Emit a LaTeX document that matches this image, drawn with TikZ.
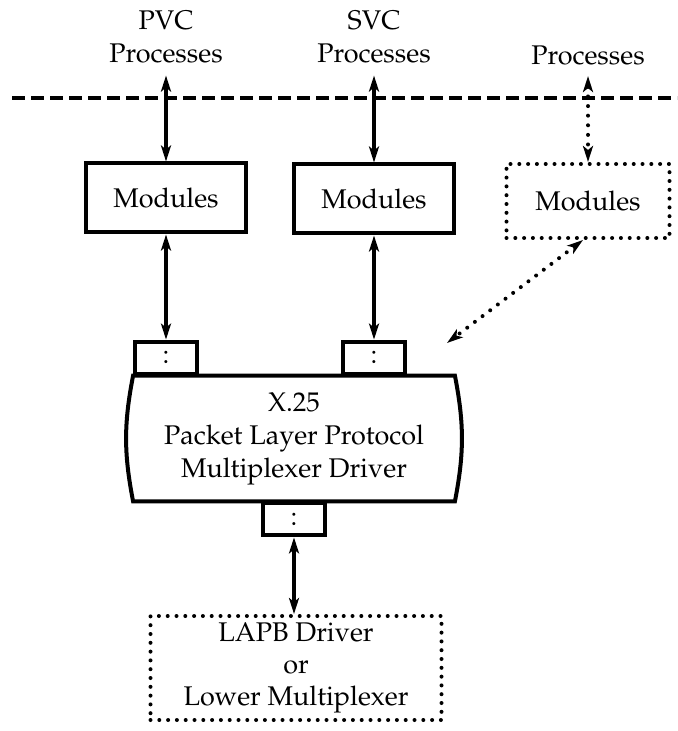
\documentclass[tikz,border=0pt]{standalone}
\usepackage[T1]{fontenc}
\usepackage{mathpazo}
\usepackage{tikz}
\usetikzlibrary{arrows.meta}

\tikzset{
  modbox/.style={draw, line width=2pt, minimum width=80pt, minimum height=34.5pt},
  dotbox/.style={draw, line width=2pt, line cap=round, dash pattern=on 0pt off 4.4pt},
  portbox/.style={draw, line width=2pt, minimum width=31pt, minimum height=16pt, inner sep=0pt},
  link/.style={{Stealth[length=8pt,width=5pt,inset=2pt]}-{Stealth[length=8pt,width=5pt,inset=2pt]}, line width=1.7pt},
  dotlink/.style={link, line width=2pt, line cap=round, dash pattern=on 0pt off 4.8pt},
}

\begin{document}
\begin{tikzpicture}[x=0.5pt, y=-0.5pt, font=\fontsize{13.5}{16.5}\selectfont]
      \useasboundingbox (0,0) rectangle (677,731);

      \node[align=center, inner sep=0pt] (pvc) at (166,37) {PVC\\Processes};
      \node[align=center, inner sep=0pt] (svc) at (374,37) {SVC\\Processes};
      \node[inner sep=0pt] (proc) at (588,55) {Processes};

      % user / kernel boundary
      \draw[line width=1.7pt, dash pattern=on 6.5pt off 3pt] (12,98) -- (677,98);

      \node[modbox] (modA) at (166,198) {Modules};
      \node[modbox] (modB) at (374,199) {Modules};
      \node[dotbox, minimum width=81.5pt, minimum height=37pt] (modC) at (588,201) {Modules};

      \node[minimum width=160.5pt, minimum height=62.5pt, align=center] (mux) at (294,438.5)
            {X.25\\Packet Layer Protocol\\Multiplexer Driver};
      \draw[line width=2pt] (mux.north west) -- (mux.north east) to[bend left=11] (mux.south east)
            -- (mux.south west) to[bend left=11] cycle;

      \node[portbox, anchor=south] (portA) at (mux.north -| modA) {:};
      \node[portbox, anchor=south] (portB) at (mux.north -| modB) {:};
      \node[portbox, anchor=north] (portC) at (mux.south) {:};

      \node[dotbox, minimum width=145.5pt, minimum height=52pt, align=center, font=\fontsize{13.5}{16}\selectfont]
            (lapb) at (296,668) {LAPB Driver\\or\\Lower Multiplexer};

      \coordinate (muxin) at (447,343);

      \draw[link, shorten <=6pt] (pvc.south) -- (modA.north);
      \draw[link, shorten <=6pt] (svc.south) -- (modB.north);
      \draw[dotlink, shorten <=5.5pt] (proc.south) -- (modC.north);
      \draw[link] (modA.south) -- (portA.north);
      \draw[link] (modB.south) -- (portB.north);
      \draw[dotlink] ([xshift=-2.5pt]modC.south) -- (muxin);
      \draw[link] (portC.south) -- (portC.south |- lapb.north);
    \end{tikzpicture}
\end{document}
